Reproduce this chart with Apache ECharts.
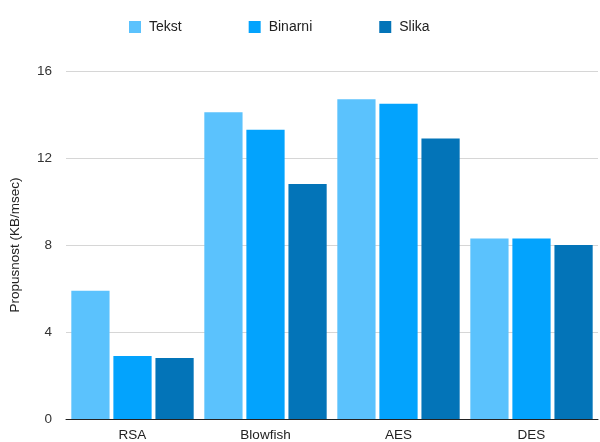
<!DOCTYPE html>
<html>
<head>
<meta charset="utf-8">
<script src="https://cdn.jsdelivr.net/npm/echarts@6/dist/echarts.min.js"></script>
<style>html,body{margin:0;padding:0;background:#fff}#c{width:600px;height:442px}</style>
</head>
<body>
<div id="c"></div>
<script>
var categories = ['RSA', 'Blowfish', 'AES', 'DES'];
var tekst = [5.9, 14.1, 14.7, 8.3];
var binarni = [2.9, 13.3, 14.5, 8.3];
var slika = [2.8, 10.8, 12.9, 8.0];
var seriesNames = ['Tekst', 'Binarni', 'Slika'];
var colors = ['#5bc2fd', '#03a3fd', '#0374b8'];

var chart = echarts.init(document.getElementById('c'), null, {renderer: 'canvas'});
var font = 'Liberation Sans, Arial, sans-serif';
function bar(name, data, color) {
  return {
    name: name, type: 'bar', data: data,
    barGap: '10%', barCategoryGap: '8%',
    itemStyle: {color: color},
    emphasis: {disabled: true}
  };
}
chart.setOption({
  animation: false,
  color: colors,
  textStyle: {fontFamily: font},
  legend: {
    left: 124, top: 15, itemWidth: 12, itemHeight: 12, itemGap: 67,
    icon: 'rect',
    textStyle: {fontSize: 14, color: '#222', fontFamily: font, padding: [0, 0, 0, 3]},
    data: seriesNames
  },
  grid: {left: 66, right: 2, top: 71, bottom: 20, containLabel: false},
  xAxis: {
    type: 'category', data: categories,
    axisLine: {lineStyle: {color: '#222', width: 1}},
    axisTick: {show: false},
    axisLabel: {fontSize: 13.5, color: '#222', margin: 9, fontFamily: font}
  },
  yAxis: {
    type: 'value', min: 0, max: 16, interval: 4,
    name: 'Propusnost (KB/msec)', nameLocation: 'middle', nameGap: 44,
    nameTextStyle: {fontSize: 13.5, color: '#222', fontFamily: font},
    axisLine: {show: false}, axisTick: {show: false},
    axisLabel: {fontSize: 13.5, color: '#333', margin: 14, fontFamily: font},
    splitLine: {lineStyle: {color: '#d6d6d6', width: 1}}
  },
  series: [bar(seriesNames[0], tekst, colors[0]), bar(seriesNames[1], binarni, colors[1]), bar(seriesNames[2], slika, colors[2])]
});
</script>
</body>
</html>
